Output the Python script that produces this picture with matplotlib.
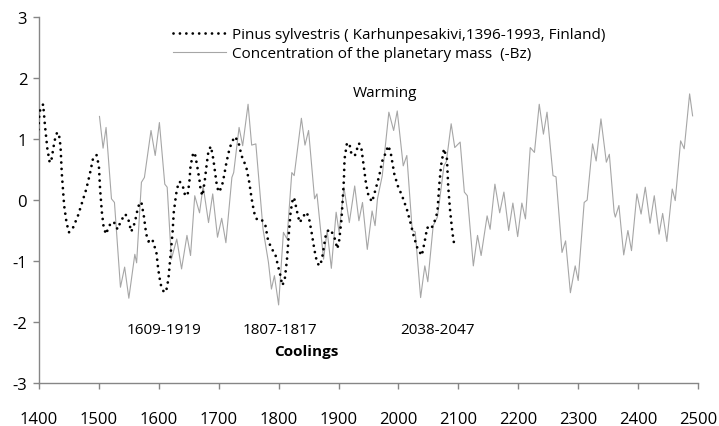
import matplotlib
matplotlib.use("Agg")
import matplotlib.pyplot as plt

# Pinus sylvestris series (dotted)
pinus_years = [1398, 1401, 1407, 1410, 1414, 1418, 1421, 1426, 1430, 1433, 1436, 1438, 1442, 1446, 1450,
               1457, 1465, 1472, 1479, 1485, 1490, 1496, 1500, 1502, 1505, 1508, 1512, 1516, 1521, 1527,
               1531, 1537, 1544, 1549, 1554, 1560, 1564, 1568, 1571, 1575, 1579, 1583, 1589, 1596, 1599,
               1603, 1608, 1612, 1616, 1619, 1623, 1625, 1629, 1633, 1635, 1640, 1644, 1648, 1651, 1653,
               1657, 1660, 1664, 1668, 1670, 1673, 1677, 1680, 1683, 1687, 1691, 1694, 1697, 1700, 1705,
               1709, 1713, 1718, 1722, 1727, 1733, 1738, 1746, 1751, 1755, 1759, 1763, 1771, 1776, 1778,
               1782, 1788, 1794, 1799, 1803, 1806, 1810, 1814, 1817, 1820, 1824, 1826, 1831, 1835, 1841,
               1845, 1850, 1855, 1860, 1864, 1868, 1872, 1875, 1879, 1884, 1889, 1894, 1898, 1901, 1905,
               1907, 1909, 1910, 1914, 1918, 1921, 1927, 1934, 1938, 1942, 1946, 1950, 1956, 1962, 1968,
               1973, 1977, 1983, 1987, 1993, 1999, 2006, 2014, 2020, 2026, 2032, 2039, 2044, 2048, 2054,
               2059, 2065, 2068, 2071, 2076, 2081, 2083, 2086, 2090, 2094]
pinus_values = [1.05, 1.45, 1.57, 1.22, 0.84, 0.61, 0.67, 0.97, 1.10, 1.10, 0.88, 0.45, -0.09, -0.37, -0.53,
                -0.45, -0.26, -0.04, 0.18, 0.43, 0.67, 0.74, 0.56, 0.18, -0.20, -0.45, -0.56, -0.45, -0.36, -0.38,
                -0.48, -0.34, -0.23, -0.31, -0.52, -0.37, -0.18, -0.04, -0.04, -0.26, -0.56, -0.68, -0.64, -0.86, -1.13,
                -1.38, -1.50, -1.51, -1.30, -0.97, -0.53, -0.20, 0.10, 0.29, 0.30, 0.23, 0.07, 0.08, 0.29, 0.56,
                0.75, 0.78, 0.56, 0.32, 0.15, 0.07, 0.34, 0.59, 0.81, 0.88, 0.67, 0.45, 0.23, 0.13, 0.21,
                0.40, 0.62, 0.84, 0.95, 1.04, 0.95, 0.73, 0.54, 0.29, 0.02, -0.20, -0.31, -0.31, -0.39, -0.42,
                -0.64, -0.80, -0.87, -1.08, -1.24, -1.40, -1.32, -0.97, -0.56, -0.20, 0.04, 0.03, -0.20, -0.37, -0.28,
                -0.20, -0.26, -0.53, -0.83, -1.02, -1.08, -0.99, -0.80, -0.56, -0.48, -0.53, -0.64, -0.80, -0.67, -0.31,
                0.02, 0.34, 0.67, 0.93, 0.93, 0.78, 0.72, 0.93, 0.86, 0.56, 0.26, 0.07, -0.03, 0.18, 0.40,
                0.64, 0.73, 0.89, 0.78, 0.43, 0.23, 0.07, -0.15, -0.37, -0.61, -0.80, -0.91, -0.67, -0.45, -0.48,
                -0.39, -0.20, 0.23, 0.56, 0.84, 0.67, 0.23, -0.15, -0.53, -0.79]

# Concentration of the planetary mass (-Bz), grey line
mass_years = [1501, 1507, 1512, 1521, 1526, 1536, 1543, 1550, 1560, 1563, 1571, 1576, 1587, 1594, 1601,
              1610, 1614, 1621, 1630, 1638, 1647, 1653, 1660, 1668, 1674, 1683, 1690, 1698, 1705, 1712,
              1722, 1725, 1734, 1740, 1749, 1755, 1762, 1774, 1783, 1788, 1793, 1800, 1808, 1814, 1822,
              1826, 1838, 1844, 1850, 1860, 1864, 1875, 1881, 1888, 1896, 1901, 1909, 1918, 1927, 1934,
              1940, 1948, 1956, 1961, 1965, 1973, 1984, 1992, 1998, 2008, 2014, 2023, 2028, 2037, 2044,
              2049, 2058, 2065, 2076, 2080, 2088, 2094, 2103, 2110, 2115, 2125, 2132, 2138, 2148, 2153,
              2161, 2169, 2176, 2184, 2191, 2199, 2206, 2212, 2220, 2227, 2235, 2242, 2248, 2258, 2263,
              2273, 2279, 2287, 2295, 2300, 2310, 2315, 2324, 2330, 2338, 2347, 2352, 2360, 2362, 2368,
              2376, 2383, 2389, 2398, 2405, 2412, 2420, 2427, 2435, 2441, 2448, 2457, 2462, 2471, 2477,
              2486, 2491]
mass_values = [1.37, 0.85, 1.19, 0.02, -0.04, -1.43, -1.10, -1.61, -0.89, -1.03, 0.29, 0.37, 1.14, 0.73, 1.27,
               0.26, 0.21, -0.97, -0.64, -1.13, -0.58, -0.91, 0.07, -0.21, 0.23, -0.37, 0.10, -0.61, -0.30, -0.70,
               0.37, 0.45, 1.19, 0.89, 1.57, 0.90, 0.92, -0.48, -1.02, -1.46, -1.24, -1.72, -0.53, -0.64, 0.45,
               0.40, 1.34, 0.90, 1.14, 0.02, 0.10, -0.97, -0.50, -1.12, -0.20, -0.53, 0.21, -0.37, 0.23, -0.34,
               -0.04, -0.81, -0.18, -0.42, 0.02, 0.40, 1.44, 1.14, 1.46, 0.56, 0.73, -0.50, -0.52, -1.60, -1.08,
               -1.34, -0.42, -0.28, 0.56, 0.63, 1.25, 0.86, 0.95, 0.13, 0.07, -1.08, -0.58, -0.91, -0.26, -0.48,
               0.26, -0.21, 0.13, -0.50, -0.05, -0.60, -0.05, -0.31, 0.86, 0.78, 1.57, 1.08, 1.44, 0.40, 0.38,
               -0.86, -0.67, -1.52, -1.08, -1.32, -0.04, 0.00, 0.92, 0.64, 1.33, 0.62, 0.75, -0.20, -0.28, -0.09,
               -0.90, -0.50, -0.83, 0.10, -0.23, 0.21, -0.38, 0.07, -0.56, -0.22, -0.68, 0.18, -0.01, 0.97, 0.84,
               1.74, 1.38]

x_ticks = [1400, 1500, 1600, 1700, 1800, 1900, 2000, 2100, 2200, 2300, 2400, 2500]
y_ticks = [-3, -2, -1, 0, 1, 2, 3]

label_pinus = "Pinus sylvestris ( Karhunpesakivi,1396-1993, Finland)"
label_mass = "Concentration of the planetary mass  (-Bz)"

plt.rcParams['font.family'] = ['Open Sans', 'DejaVu Sans']

fig = plt.figure(figsize=(7.19, 4.27), dpi=100)
ax = fig.add_axes([0.0542, 0.1007, 0.9166, 0.8571])

ax.plot(mass_years, mass_values, color='#a6a6a6', lw=0.8, label=label_mass, zorder=2)
ax.plot(pinus_years, pinus_values, color='black', lw=2.0, linestyle=(0, (0.01, 2.3)),
        dash_capstyle='round', label=label_pinus, zorder=3)

ax.set_xlim(1400, 2500)
ax.set_ylim(-3, 3)
ax.set_xticks(x_ticks)
ax.set_yticks(y_ticks)
ax.set_xticklabels([str(v) for v in x_ticks])
ax.set_yticklabels([str(v) for v in y_ticks])

for s in ['top', 'right']:
    ax.spines[s].set_visible(False)
for s in ['left', 'bottom']:
    ax.spines[s].set_color('#868686')
    ax.spines[s].set_linewidth(1.0)
ax.tick_params(axis='both', colors='#868686', labelcolor='black', length=4.5, width=1.0, labelsize=12)
ax.tick_params(axis='x', pad=15.5)
ax.tick_params(axis='y', pad=4)

handles, labels = ax.get_legend_handles_labels()
leg = ax.legend(handles[::-1], labels[::-1], loc='upper left', bbox_to_anchor=(0.2032, 0.973),
                frameon=False, fontsize=11, handlelength=3.45, handletextpad=0.45,
                labelspacing=0.3, borderaxespad=0, borderpad=0)

ax.text(1978, 1.77, "Warming", ha='center', va='center', fontsize=11)
ax.text(1609, -2.13, "1609-1919", ha='center', va='center', fontsize=11)
ax.text(1803, -2.13, "1807-1817", ha='center', va='center', fontsize=11)
ax.text(1846, -2.47, "Coolings", ha='center', va='center', fontsize=11, fontweight='bold')
ax.text(2065, -2.13, "2038-2047", ha='center', va='center', fontsize=11)

fig.savefig("out.png", dpi=100)
